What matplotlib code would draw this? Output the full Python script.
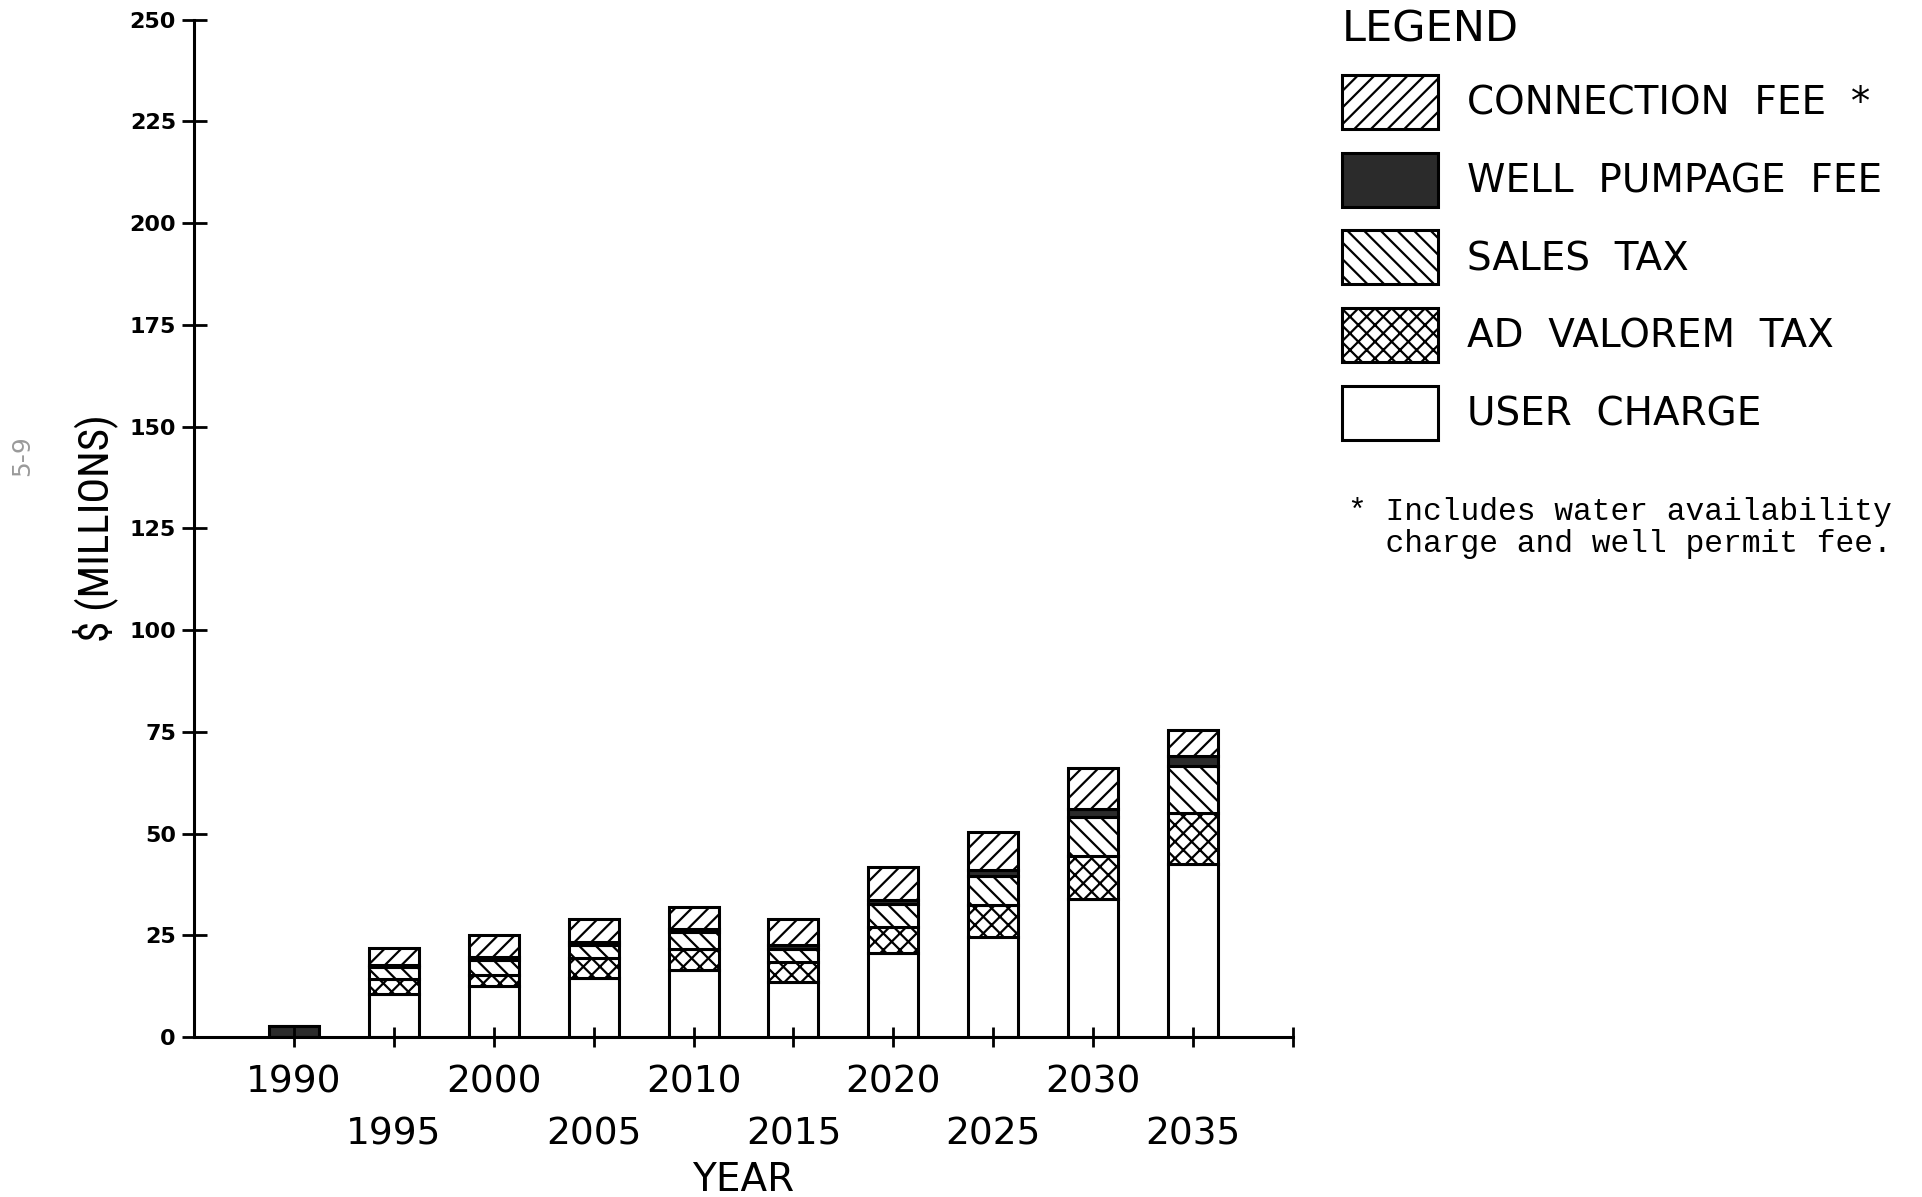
import matplotlib
matplotlib.use("Agg")
import matplotlib.pyplot as plt
from matplotlib import font_manager
import numpy as np

years = ["1990", "1995", "2000", "2005", "2010", "2015", "2020", "2025", "2030", "2035"]
user_charge   = [0.0, 10.5, 12.5, 14.6, 16.4, 13.5, 20.7, 24.5, 34.0, 42.5]
ad_valorem    = [0.0,  3.8,  2.8,  4.7,  5.3,  4.9,  6.3,  8.0, 10.5, 12.5]
sales_tax     = [0.0,  2.9,  3.6,  3.2,  4.1,  3.3,  5.8,  7.0,  9.5, 11.5]
well_pumpage  = [2.7,  0.6,  0.8,  0.9,  0.8,  0.8,  0.8,  1.5,  2.0,  2.5]
connection    = [0.0,  4.1,  5.3,  5.7,  5.4,  6.4,  8.2,  9.3, 10.0,  6.5]

series_names = ["USER CHARGE", "AD VALOREM TAX", "SALES TAX", "WELL PUMPAGE FEE", "CONNECTION FEE *"]
legend_labels = ["USER  CHARGE", "AD  VALOREM  TAX", "SALES  TAX",
                 "WELL  PUMPAGE  FEE", "CONNECTION  FEE  *"]
y_ticks = [0, 25, 50, 75, 100, 125, 150, 175, 200, 225, 250]

plt.rcParams['hatch.linewidth'] = 1.6
plt.rcParams['hatch.color'] = 'black'

# pick a narrow font for the y label if one is installed
names = {f.name for f in font_manager.fontManager.ttflist}
narrow = None
for cand in ["Liberation Sans Narrow", "DejaVu Sans Condensed", "Roboto Condensed",
             "Open Sans Condensed"]:
    if cand in names:
        narrow = cand
        break
if narrow is None:
    ylab_kw = dict(family='DejaVu Sans', fontsize=26, fontstretch='condensed')
else:
    ylab_kw = dict(family=[narrow, 'DejaVu Sans'], fontsize=31)

W, H = 1922, 1197
fig = plt.figure(figsize=(W / 100, H / 100), dpi=100)
fig.patch.set_facecolor('white')
ax = fig.add_axes([194 / W, 1 - 1037 / H, (1293 - 194) / W, (1037 - 19.6) / H])

x = np.arange(len(years))
series = [user_charge, ad_valorem, sales_tax, well_pumpage, connection]
styles = [
    dict(facecolor='white', hatch=None),
    dict(facecolor='white', hatch='xx'),
    dict(facecolor='white', hatch='\\\\'),
    dict(facecolor='#2b2b2b', hatch=None),
    dict(facecolor='white', hatch='//'),
]
bottom = np.zeros(len(years))
handles = []
for vals, st, name in zip(series, styles, series_names):
    vals = np.array(vals)
    bc = ax.bar(x, vals, width=0.5, bottom=bottom, edgecolor='black',
                linewidth=2.2, label=name, **st)
    handles.append(bc)
    bottom += vals

ax.set_xlim(-1, 10)
ax.set_ylim(0, 250)
ax.set_yticks(y_ticks)
ax.set_yticklabels([str(v) for v in y_ticks], fontsize=16, fontweight='bold',
                   family='DejaVu Sans')
xt = list(range(len(years) + 1))
xl = [y if i % 2 == 0 else "\n" + y for i, y in enumerate(years)] + [""]
ax.set_xticks(xt)
ax.set_xticklabels(xl, fontsize=27, family='DejaVu Sans')
for lab in ax.get_xticklabels():
    lab.set_linespacing(1.55)

for s in ['top', 'right']:
    ax.spines[s].set_visible(False)
for s in ['left', 'bottom']:
    ax.spines[s].set_linewidth(2.2)
ax.tick_params(axis='y', direction='inout', length=18, width=2, pad=4)
ax.tick_params(axis='x', direction='inout', length=14, width=2, pad=13)

ax.set_xlabel("YEAR", fontsize=28)
ax.xaxis.set_label_coords(0.5, -0.122)
ax.set_ylabel("$ (MILLIONS)", labelpad=8, **ylab_kw)

leg = fig.legend(handles[::-1], legend_labels[::-1], loc='upper left',
                 bbox_to_anchor=(1342 / W, 1 - 8 / H), frameon=False,
                 fontsize=28, title="LEGEND", title_fontsize=31,
                 alignment='left', handlelength=2.47, handleheight=1.76,
                 labelspacing=0.61, handletextpad=0.75, borderpad=0,
                 borderaxespad=0)
leg._legend_box.sep = 18

fig.text(1348 / W, 1 - 497 / H,
         "* Includes water availability\n  charge and well permit fee.",
         family=['Liberation Mono', 'DejaVu Sans Mono'], fontsize=22.5,
         va='top', ha='left', linespacing=1.1)

fig.text(22 / W, 1 - 456 / H, "5-9", rotation=90, fontsize=18,
         color='#9a9a9a', ha='center', va='center')

fig.savefig("out.png", dpi=100, facecolor='white')
